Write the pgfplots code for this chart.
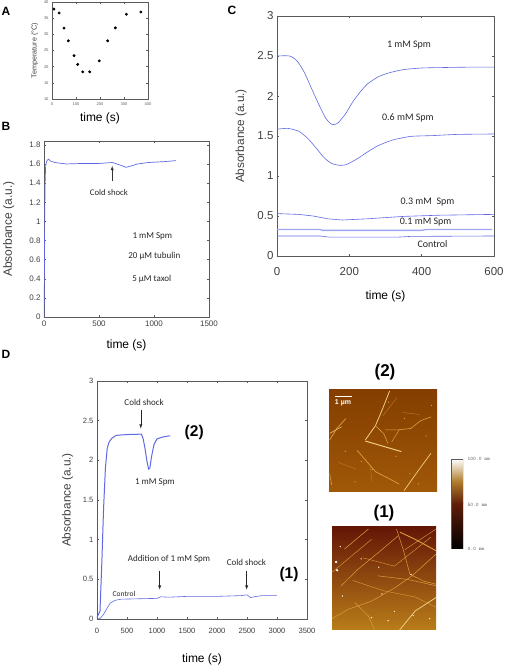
\documentclass[border=0pt]{standalone}
\usepackage{pgfplots}
\pgfplotsset{compat=1.18}
\usepackage{fontspec}
\setmainfont{Liberation Sans}
\newfontfamily\calfont{Carlito}
\definecolor{cb}{RGB}{95,105,225}
\definecolor{gr}{RGB}{90,90,90}
\definecolor{ia}{RGB}{132,62,0}
\definecolor{ib}{RGB}{160,88,8}
\definecolor{ic}{RGB}{100,22,6}
\definecolor{id}{RGB}{185,125,25}
\definecolor{fa}{RGB}{240,205,130}
\definecolor{fd}{RGB}{190,125,40}
\definecolor{fb}{RGB}{215,160,60}
\definecolor{cm}{RGB}{95,30,10}
\definecolor{cg}{RGB}{175,125,45}
\pgfplotsset{
  base/.style={scale only axis,anchor=south west,axis line style={gr,line width=0.5pt},
    tick style={gr,line width=0.4pt},major tick length=2pt,tick align=inside,
    /pgf/number format/assume math mode=true,
    /pgf/number format/fixed,
    /pgf/number format/1000 sep={},
    clip=true},
  img/.style={scale only axis,anchor=south west,axis lines=none,xmin=0,xmax=100,ymin=0,ymax=100,clip=true},
}
\begin{document}
\begin{tikzpicture}[x=1pt,y=1pt]
\useasboundingbox (0,0) rectangle (506,665);
% A
\begin{axis}[base,at={(52pt,566pt)},width=96pt,height=97pt,xmin=0,xmax=400,ymin=10,ymax=40,
  xtick={0,100,200,300,400},ytick={10,15,...,40},
  tick label style={font=\fontsize{4}{4}\selectfont,text=gr},
  ylabel={Temperature (°C)},ylabel style={font=\fontsize{7.2}{8}\selectfont,text=black!75,yshift=-1pt},
  xlabel={time (s)},xlabel style={font=\fontsize{12}{12}\selectfont,yshift=-1pt}]
\addplot[only marks,mark=*,mark size=1.25pt,black] coordinates {
(8,37.8)(30,36.6)(50,31.9)(68,28)(92,23.4)(107,20.7)(128,18.4)(157,18.4)(197,21.8)(232,28)(264,32)(310,36.2)(370,36.9)};
\end{axis}
% B
\begin{axis}[base,at={(44pt,348pt)},width=165pt,height=176pt,xmin=0,xmax=1500,ymin=0,ymax=1.84,
  xtick={0,500,1000,1500},ytick={0,0.2,...,1.8},yticklabels={0,0.2,0.4,0.6,0.8,1,1.2,1.4,1.6,1.8},
  tick label style={font=\fontsize{8}{8}\selectfont,text=black!75},
  ylabel={Absorbance (a.u.)},ylabel style={font=\fontsize{12}{12}\selectfont,text=black!75,yshift=8pt},
  xlabel={time (s)},xlabel style={font=\fontsize{12}{12}\selectfont,yshift=-7pt}]
\addplot[cb,line width=0.7pt] coordinates {(0,0)(3,0.3)(6,1.0)(10,1.4)(15,1.58)(25,1.63)(40,1.65)(60,1.63)(100,1.615)(200,1.60)(350,1.605)(500,1.605)(620,1.615)(650,1.605)(700,1.585)(745,1.565)(780,1.575)(850,1.60)(950,1.615)(1100,1.625)(1200,1.635)};
\draw[-latex,black!80,line width=0.5pt] (axis cs:620,1.42) -- (axis cs:620,1.58);
\node[font=\fontsize{8.7}{9}\selectfont\calfont,text=black!85] at (axis cs:590,1.30) {Cold shock};
\node[font=\fontsize{9}{9}\selectfont\calfont,text=black!85] at (axis cs:985,0.84) {1 mM Spm};
\node[font=\fontsize{9}{9}\selectfont\calfont,text=black!85] at (axis cs:1003,0.64) {20 µM tubulin};
\node[font=\fontsize{9}{9}\selectfont\calfont,text=black!85] at (axis cs:980,0.40) {5 µM taxol};
\end{axis}
% C
\begin{axis}[base,at={(277pt,409pt)},width=217pt,height=240pt,xmin=0,xmax=600,ymin=0,ymax=3,
  xtick={0,200,400,600},ytick={0,0.5,...,3},yticklabels={0,0.5,1,1.5,2,2.5,3},
  tick label style={font=\fontsize{11.5}{12}\selectfont,text=black!75},
  xticklabel style={yshift=-8pt},
  ylabel={Absorbance (a.u.)},ylabel style={font=\fontsize{11.8}{12}\selectfont,text=black!75,yshift=4pt},
  xlabel={time (s)},xlabel style={font=\fontsize{12}{12}\selectfont,yshift=-8pt}]
\addplot[cb,line width=0.6pt,smooth,tension=0.4] coordinates {(0,2.5)(35,2.5)(55,2.44)(75,2.3)(95,2.1)(115,1.9)(135,1.72)(150,1.65)(160,1.645)(170,1.67)(190,1.78)(210,1.93)(230,2.05)(250,2.15)(280,2.24)(310,2.29)(350,2.33)(400,2.35)(450,2.355)(520,2.36)(600,2.36)};
\addplot[cb,line width=0.6pt,smooth,tension=0.4] coordinates {(0,1.585)(30,1.595)(60,1.56)(85,1.47)(110,1.34)(130,1.23)(150,1.16)(170,1.135)(190,1.14)(220,1.21)(250,1.3)(280,1.38)(320,1.45)(370,1.495)(430,1.505)(500,1.52)(600,1.525)};
\addplot[cb,line width=0.6pt] coordinates {(0,0.53)(60,0.52)(100,0.5)(140,0.465)(180,0.45)(250,0.465)(350,0.495)(450,0.51)(600,0.52)};
\addplot[cb!60,line width=1.3pt] coordinates {(0,0.33)(120,0.33)(125,0.32)(400,0.32)(410,0.33)(595,0.33)};
\addplot[cb,line width=0.6pt] coordinates {(0,0.25)(120,0.25)(145,0.235)(330,0.235)(370,0.245)(600,0.25)};
\node[font=\fontsize{10}{10}\selectfont\calfont,text=black!85] at (axis cs:365,2.64) {1 mM Spm};
\node[font=\fontsize{10}{10}\selectfont\calfont,text=black!85] at (axis cs:362,1.72) {0.6 mM Spm};
\node[font=\fontsize{10}{10}\selectfont\calfont,text=black!85] at (axis cs:416,0.68) {0.3 mM\ \ Spm};
\node[font=\fontsize{10}{10}\selectfont\calfont,text=black!85] at (axis cs:411,0.43) {0.1 mM Spm};
\node[font=\fontsize{10}{10}\selectfont\calfont,text=black!85] at (axis cs:430,0.155) {Control};
\end{axis}
% D
\begin{axis}[base,at={(97pt,46pt)},width=210pt,height=238pt,xmin=0,xmax=3500,ymin=0,ymax=3,
  xtick={0,500,...,3500},ytick={0,0.5,...,3},yticklabels={0,0.5,1,1.5,2,2.5,3},
  tick label style={font=\fontsize{7.6}{8}\selectfont,text=black!75},
  xticklabel style={yshift=-6pt},
  ylabel={Absorbance (a.u.)},ylabel style={font=\fontsize{11.8}{12}\selectfont,text=black!75,yshift=3pt},
  xlabel={time (s)},xlabel style={font=\fontsize{12}{12}\selectfont,yshift=-13pt}]
\addplot[cb,line width=1pt] coordinates {(0,0.02)(50,0.1)(80,0.7)(110,1.4)(140,1.9)(170,2.15)(200,2.23)(250,2.28)(320,2.315)(500,2.325)(740,2.33)(770,2.27)(800,2.15)(830,2.0)(860,1.89)(880,1.9)(910,2.05)(950,2.2)(1000,2.27)(1100,2.295)(1220,2.31)};
\addplot[cb,line width=0.6pt] coordinates {(0,0)(50,0.005)(110,0.06)(170,0.14)(220,0.2)(300,0.235)(400,0.25)(700,0.255)(1000,0.26)(1060,0.28)(1200,0.275)(1500,0.285)(2000,0.285)(2400,0.295)(2500,0.305)(2560,0.27)(2620,0.28)(2750,0.295)(3000,0.295)};
\draw[-latex,black!85,line width=0.5pt] (axis cs:730,2.63) -- (axis cs:730,2.4);
\draw[-latex,black!85,line width=0.5pt] (axis cs:1045,0.61) -- (axis cs:1045,0.37);
\draw[-latex,black!85,line width=0.5pt] (axis cs:2495,0.61) -- (axis cs:2495,0.37);
\node[font=\fontsize{9}{9}\selectfont\calfont,text=black!85] at (axis cs:785,2.73) {Cold shock};
\node[font=\fontsize{9}{9}\selectfont\calfont,text=black!85] at (axis cs:965,1.72) {1 mM Spm};
\node[font=\fontsize{9}{9}\selectfont\calfont,text=black!85] at (axis cs:1200,0.75) {Addition of 1 mM Spm};
\node[font=\fontsize{9}{9}\selectfont\calfont,text=black!85] at (axis cs:2490,0.71) {Cold shock};
\node[font=\fontsize{7.5}{8}\selectfont\calfont,text=black!85] at (axis cs:450,0.32) {Control};
\node[font=\fontsize{15.5}{16}\selectfont\bfseries] at (axis cs:1620,2.35) {(2)};
\node[font=\fontsize{15.5}{16}\selectfont\bfseries] at (axis cs:3200,0.56) {(1)};
\end{axis}
% image (2)
\begin{axis}[img,at={(329pt,173pt)},width=108pt,height=102pt]
\fill[top color=ia,bottom color=ib] (axis cs:0,0) rectangle (axis cs:100,100);
\addplot[fa,line width=0.8pt] coordinates {(33.6,51)(43,65)(49.8,82)(56.1,99)};
\addplot[fa,line width=1pt] coordinates {(33.6,50)(67,39.6)};
\addplot[fb,line width=0.6pt] coordinates {(43,65)(50.8,57)(54.5,47.7)};
\addplot[fb,line width=0.5pt] coordinates {(52,61)(65,61)(58,49)};
\addplot[fb,line width=0.6pt] coordinates {(65,61)(75.7,62.3)(85,70)(94.7,73.7)};
\addplot[fb,line width=0.7pt] coordinates {(25.9,41)(43,20)(65,7.8)};
\addplot[fa,line width=0.7pt] coordinates {(69.5,1.3)(82,20)(94.4,38)};
\addplot[fb,line width=0.7pt] coordinates {(0.6,51)(7,62)(15.6,72)};
\addplot[fa,line width=0.5pt] coordinates {(0.6,57.5)(11.9,64)};
\addplot[fd,line width=0.4pt] coordinates {(8.7,29)(25,22.4)};
\addplot[fb,line width=0.6pt] coordinates {(0.6,18)(2.5,7)};
\addplot[fd,line width=0.4pt] coordinates {(68,78)(83.6,76)};
\addplot[fd,line width=0.4pt] coordinates {(49.8,74.7)(63,92.5)};
\addplot[fd,line width=0.4pt] coordinates {(38,26.6)(39.9,10)};
\addplot[only marks,mark=*,mark size=0.35pt,fb] coordinates {(40,22)(75,18)(62,35)(24,10)(90,55)(70,72)(83,8)(15,40)(30,30)(55,88)(95,85)};
\end{axis}
% image (1)
\begin{axis}[img,at={(332pt,35pt)},width=104pt,height=103pt]
\fill[top color=ic,bottom color=id] (axis cs:0,0) rectangle (axis cs:100,100);
\addplot[fb,line width=0.5pt] coordinates {(62,98)(68.5,78)(75,54)(88,47.5)(100,44.5)};
\addplot[fb,line width=0.9pt] coordinates {(65.3,95)(80,88)(100,77)};
\addplot[fb,line width=0.5pt] coordinates {(0,11)(15.4,20)(38,28)(60.5,41)(77,52.6)(100,73.7)};
\addplot[fa,line width=0.8pt] coordinates {(65,0)(80,18.5)(100,31.5)};
\addplot[fb,line width=0.5pt] coordinates {(9,43)(25,59)(44.4,75)(63.7,91.5)};
\addplot[fb,line width=0.5pt] coordinates {(12,78.6)(35,98)};
\addplot[fb,line width=0.4pt] coordinates {(0,56)(15.4,69)(38,88)};
\addplot[fb,line width=0.5pt] coordinates {(44,52.6)(73,49)(100,43)};
\addplot[fb,line width=0.5pt] coordinates {(22,26.6)(35,13.6)(41,0)};
\addplot[fb,line width=0.4pt] coordinates {(70,78)(100,98)};
\addplot[fb,line width=0.4pt] coordinates {(20,48)(50,38)(80,32)(100,22)};
\addplot[fb,line width=0.4pt] coordinates {(30,70)(60,62)(95,90)};
\addplot[only marks,mark=*,mark size=1pt,white] coordinates {(4,66)(5,58)};
\addplot[only marks,mark=*,mark size=0.4pt,white!85!orange] coordinates {(28,69)(45,61)(10,33)(48,35)(76,54)(60,18)(78,14)(94,11)(54,9)(38,12)(8,81)};
\end{axis}
% colorbar
\begin{axis}[img,at={(451pt,116pt)},width=12pt,height=90pt]
\shade[bottom color=black,top color=cm] (axis cs:0,0) rectangle (axis cs:100,50);
\shade[bottom color=cm,top color=cg] (axis cs:0,50) rectangle (axis cs:100,75);
\shade[bottom color=cg,top color=white] (axis cs:0,75) rectangle (axis cs:100,100);
\draw[gr,line width=0.4pt] (axis cs:0,0) rectangle (axis cs:100,100);
\end{axis}
\draw[white,line width=0.8pt] (335,269) -- (352,269);
\node[font=\fontsize{5.3}{6}\selectfont\ttfamily,anchor=west,text=gr] at (464,206) {100.0 nm};
\node[font=\fontsize{5.3}{6}\selectfont\ttfamily,anchor=west,text=gr] at (464,160) {50.0 nm};
\node[font=\fontsize{5.3}{6}\selectfont\ttfamily,anchor=west,text=gr] at (464,116) {0.0 nm};
\node[font=\fontsize{7}{7}\selectfont\bfseries,text=white] at (343,262) {1 µm};
% panel letters
\node[font=\fontsize{12}{12}\selectfont\bfseries] at (6,654) {A};
\node[font=\fontsize{12}{12}\selectfont\bfseries] at (6,539) {B};
\node[font=\fontsize{12}{12}\selectfont\bfseries] at (232,655) {C};
\node[font=\fontsize{12}{12}\selectfont\bfseries] at (6,311) {D};
\node[font=\fontsize{17}{17}\selectfont\bfseries] at (385,293) {(2)};
\node[font=\fontsize{17}{17}\selectfont\bfseries] at (384,152) {(1)};
\end{tikzpicture}
\end{document}
